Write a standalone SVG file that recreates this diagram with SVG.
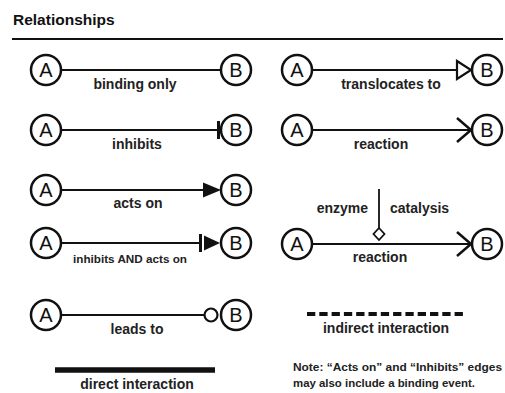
<svg xmlns="http://www.w3.org/2000/svg" width="505" height="393" viewBox="0 0 505 393">
<style>
.bg{fill:#ffffff}
.node circle{fill:#ffffff;stroke:#111;stroke-width:2.5}
.node text{font-family:"Liberation Sans",Arial,sans-serif;font-size:20px;fill:#111;text-anchor:middle}
.ln{stroke:#111;stroke-width:2.2;fill:none}
.bar{stroke:#111;stroke-width:3;fill:none}
.solid{fill:#111;stroke:none}
.open{fill:#ffffff;stroke:#111;stroke-width:2.2}
.chev{fill:none;stroke:#111;stroke-width:2.5}
.lbl{font-family:"Liberation Sans",Arial,sans-serif;font-weight:bold;font-size:14px;fill:#222;text-anchor:middle}
.small{font-family:"Liberation Sans",Arial,sans-serif;font-weight:bold;font-size:11px;fill:#222}
.title{font-family:"Liberation Sans",Arial,sans-serif;font-weight:bold;font-size:15.5px;fill:#111}
</style>
<rect class="bg" x="0" y="0" width="505" height="393"/>
<text class="title" x="13" y="25">Relationships</text>
<line x1="12" y1="39" x2="503" y2="39" stroke="#111" stroke-width="2"/>

<g id="connectors">
  <!-- binding only -->
  <line class="ln" x1="61" y1="70" x2="221" y2="70"/>
  <!-- inhibits -->
  <line class="ln" x1="61" y1="130" x2="218" y2="130"/>
  <line class="bar" x1="218.5" y1="121" x2="218.5" y2="139"/>
  <!-- acts on -->
  <line class="ln" x1="61" y1="190" x2="205" y2="190"/>
  <polygon class="solid" points="203,182.5 221,190 203,197.5"/>
  <!-- inhibits AND acts on -->
  <line class="ln" x1="61" y1="243" x2="200" y2="243"/>
  <line class="bar" x1="200.5" y1="234" x2="200.5" y2="252"/>
  <polygon class="solid" points="204,235.5 220,243 204,250.5"/>
  <!-- leads to -->
  <line class="ln" x1="61" y1="315" x2="204" y2="315"/>
  <circle class="open" cx="211" cy="315" r="6.5"/>
  <!-- direct interaction -->
  <line x1="55" y1="370" x2="215" y2="370" stroke="#111" stroke-width="5.5"/>

  <!-- translocates to -->
  <line class="ln" x1="312" y1="70" x2="457" y2="70"/>
  <polygon class="open" points="457,61 471,70 457,79"/>
  <!-- reaction -->
  <line class="ln" x1="312" y1="130" x2="470" y2="130"/>
  <polyline class="chev" points="457,118 471,130 457,142"/>
  <!-- enzyme catalysis reaction -->
  <line class="ln" x1="312" y1="244" x2="470" y2="244"/>
  <polyline class="chev" points="457,232 471,244 457,256"/>
  <line x1="379" y1="189" x2="379" y2="228" stroke="#111" stroke-width="1.8"/>
  <polygon points="379,228 384.5,234 379,240 373.5,234" fill="#fff" stroke="#111" stroke-width="1.8"/>
  <!-- indirect interaction -->
  <line x1="307" y1="314" x2="463" y2="314" stroke="#111" stroke-width="4" stroke-dasharray="8.3 4"/>
</g>

<g id="row1-A" class="node"><circle cx="46" cy="70" r="15"/><text x="46" y="77">A</text></g>
<g id="row1-B" class="node"><circle cx="236" cy="70" r="15"/><text x="236" y="77">B</text></g>
<g id="row2-A" class="node"><circle cx="46" cy="130" r="15"/><text x="46" y="137">A</text></g>
<g id="row2-B" class="node"><circle cx="236" cy="130" r="15"/><text x="236" y="137">B</text></g>
<g id="row3-A" class="node"><circle cx="46" cy="190" r="15"/><text x="46" y="197">A</text></g>
<g id="row3-B" class="node"><circle cx="236" cy="190" r="15"/><text x="236" y="197">B</text></g>
<g id="row4-A" class="node"><circle cx="46" cy="243" r="15"/><text x="46" y="250">A</text></g>
<g id="row4-B" class="node"><circle cx="236" cy="243" r="15"/><text x="236" y="250">B</text></g>
<g id="row5-A" class="node"><circle cx="46" cy="315" r="15"/><text x="46" y="322">A</text></g>
<g id="row5-B" class="node"><circle cx="236" cy="315" r="15"/><text x="236" y="322">B</text></g>

<g id="r-row1-A" class="node"><circle cx="297" cy="70" r="15"/><text x="297" y="77">A</text></g>
<g id="r-row1-B" class="node"><circle cx="487" cy="70" r="15"/><text x="487" y="77">B</text></g>
<g id="r-row2-A" class="node"><circle cx="297" cy="130" r="15"/><text x="297" y="137">A</text></g>
<g id="r-row2-B" class="node"><circle cx="487" cy="130" r="15"/><text x="487" y="137">B</text></g>
<g id="r-row3-A" class="node"><circle cx="297" cy="244" r="15"/><text x="297" y="251">A</text></g>
<g id="r-row3-B" class="node"><circle cx="487" cy="244" r="15"/><text x="487" y="251">B</text></g>

<g id="labels">
  <text class="lbl" x="135" y="89">binding only</text>
  <text class="lbl" x="137" y="149">inhibits</text>
  <text class="lbl" x="138" y="208">acts on</text>
  <text class="small" x="73" y="263" textLength="114" lengthAdjust="spacingAndGlyphs">inhibits AND acts on</text>
  <text class="lbl" x="137" y="334">leads to</text>
  <text class="lbl" x="137" y="389">direct interaction</text>
  <text class="lbl" x="391" y="89">translocates to</text>
  <text class="lbl" x="381" y="149">reaction</text>
  <text class="lbl" x="368" y="213" style="text-anchor:end">enzyme</text>
  <text class="lbl" x="390" y="213" style="text-anchor:start">catalysis</text>
  <text class="lbl" x="380" y="262">reaction</text>
  <text class="lbl" x="386" y="333">indirect interaction</text>
  <text class="small" x="293" y="371" textLength="209" lengthAdjust="spacingAndGlyphs">Note: “Acts on” and “Inhibits” edges</text>
  <text class="small" x="293" y="387" textLength="182" lengthAdjust="spacingAndGlyphs">may also include a binding event.</text>
</g>
</svg>
